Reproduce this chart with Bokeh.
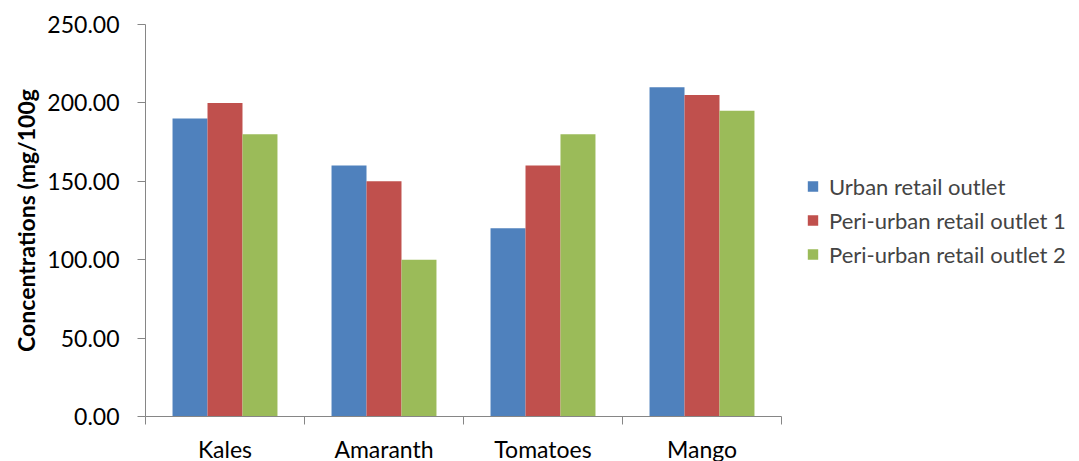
from bokeh.plotting import figure
from bokeh.models import ColumnDataSource, Range1d, FixedTicker, Legend, LegendItem, NumeralTickFormatter
from bokeh.embed import file_html
from bokeh.resources import INLINE

categories = ["Kales", "Amaranth", "Tomatoes", "Mango"]
series_names = ["Urban retail outlet", "Peri-urban retail outlet 1", "Peri-urban retail outlet 2"]
urban = [190, 160, 120, 210]
peri1 = [200, 150, 160, 205]
peri2 = [180, 100, 180, 195]
colors = ["#4F81BD", "#C0504D", "#9BBB59"]
y_ticks = [0, 50, 100, 150, 200, 250]

FONT = "Lato"

p = figure(width=1070, height=453, output_backend="svg", toolbar_location=None,
           x_range=Range1d(0, len(categories)), y_range=Range1d(0, 250),
           min_border_left=145, min_border_top=24, min_border_bottom=37, min_border_right=0,
           frame_width=636, frame_height=392)
p.outline_line_color = None
p.xgrid.visible = False
p.ygrid.visible = False
p.background_fill_color = "white"

width = 0.22
offsets = [-width, 0, width]
renderers = []
for vals, off, col in zip([urban, peri1, peri2], offsets, colors):
    src = ColumnDataSource(dict(x=[i + 0.5 + off for i in range(len(categories))], top=vals))
    r = p.vbar(x="x", top="top", width=width, source=src, fill_color=col, line_color=None)
    renderers.append(r)

# axes
axis_color = "#868686"
xa = p.xaxis[0]
xa.ticker = FixedTicker(ticks=[i + 0.5 for i in range(len(categories))],
                        minor_ticks=list(range(len(categories) + 1)))
xa.major_label_overrides = {i + 0.5: c for i, c in enumerate(categories)}
xa.major_tick_out = 0
xa.major_tick_in = 0
xa.minor_tick_out = 8
xa.minor_tick_in = 0
xa.minor_tick_line_color = axis_color
xa.axis_line_color = axis_color
xa.major_label_text_font = FONT
xa.major_label_text_font_size = "23px"
xa.major_label_text_color = "#000000"
xa.major_label_standoff = 10

ya = p.yaxis[0]
ya.ticker = FixedTicker(ticks=y_ticks)
ya.formatter = NumeralTickFormatter(format="0.00")
ya.major_tick_out = 8
ya.major_tick_in = 0
ya.minor_tick_line_color = None
ya.axis_line_color = axis_color
ya.major_tick_line_color = axis_color
ya.major_label_text_font = FONT
ya.major_label_text_font_size = "23px"
ya.major_label_text_color = "#000000"
ya.major_label_standoff = 18
ya.axis_label = "Concentrations (mg/100g"
ya.axis_label_text_font = FONT
ya.axis_label_text_font_style = "bold"
ya.axis_label_text_font_size = "23px"
ya.axis_label_text_color = "#000000"
ya.axis_label_standoff = 4

legend = Legend(items=[LegendItem(label=n, renderers=[r]) for n, r in zip(series_names, renderers)],
                location="center_left")
legend.border_line_color = None
legend.background_fill_alpha = 0
legend.label_text_font = FONT
legend.label_text_font_size = "22px"
legend.glyph_width = 13
legend.glyph_height = 13
legend.spacing = 7
legend.label_standoff = 10
legend.margin = 25
legend.padding = 10
p.add_layout(legend, "right")

open("out.html", "w").write(file_html(p, INLINE))
